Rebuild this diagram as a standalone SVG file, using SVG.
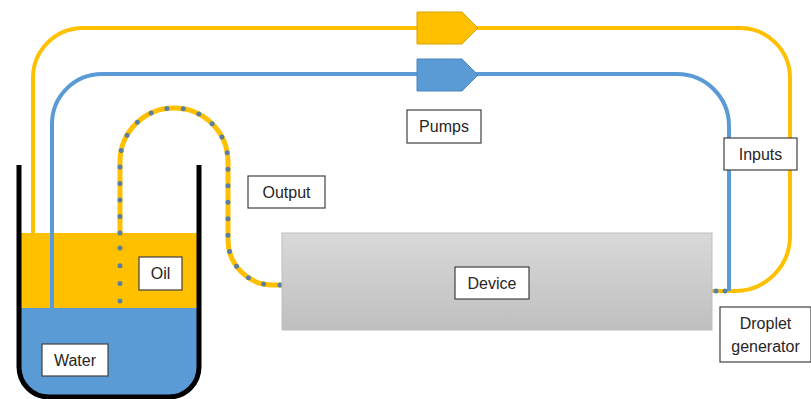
<svg xmlns="http://www.w3.org/2000/svg" width="811" height="399" viewBox="0 0 811 399">
  <style>
    .tube { fill: none; stroke-width: 4; }
    .oil { stroke: #FFC000; }
    .aq { stroke: #5B9BD5; }
    .drops { fill: none; stroke: #5A7FA3; stroke-width: 5; stroke-linecap: round; stroke-dasharray: 0 16.5; }
    .label rect { fill: #ffffff; stroke: #404040; stroke-width: 1.2; }
    .label text { font-family: "Liberation Sans", Arial, sans-serif; font-size: 16px; fill: #262626; text-anchor: middle; }
  </style>
  <defs>
    <linearGradient id="deviceFill" x1="0" y1="0" x2="0" y2="1">
      <stop offset="0" stop-color="#d9d9d9"/>
      <stop offset="1" stop-color="#bfbfbf"/>
    </linearGradient>
  </defs>
  <rect width="811" height="399" fill="#ffffff"/>

  <!-- Beaker contents -->
  <g id="beaker">
    <rect x="19" y="233" width="180" height="75" fill="#FFC000"/>
    <path d="M19,308 V367 A30,30 0 0 0 49,397 H169 A30,30 0 0 0 199,367 V308 Z" fill="#5B9BD5"/>
  </g>

  <!-- Connectors: tubing -->
  <g id="connectors">
    <path class="tube oil" d="M33,233 V78 A50,50 0 0 1 83,28 H740 A50,50 0 0 1 790,78 V236 A55,55 0 0 1 735,291 H712"/>
    <path class="tube aq" d="M52,308 V124 A50,50 0 0 1 102,74 H677 A52,52 0 0 1 729,126 V291"/>
    <path class="tube oil" style="stroke-width:5" d="M120,233 V162 A54,54 0 0 1 228,162 V240 A45,45 0 0 0 273,285 H282"/>
    <path class="drops" d="M120,233 V162 A54,54 0 0 1 228,162 V240 A45,45 0 0 0 273,285 H282"/>
    <path class="drops" d="M120,248 V305" style="stroke-dasharray:0 17.7"/>
    <path class="drops" d="M716,291 H726" style="stroke-dasharray:0 9"/>
  </g>

  <!-- Beaker wall -->
  <path d="M19,165 V367 A30,30 0 0 0 49,397 H169 A30,30 0 0 0 199,367 V165" fill="none" stroke="#000000" stroke-width="5"/>

  <!-- Pumps -->
  <g id="pump-oil">
    <path d="M417,12 H462 L478,28 L462,44 H417 Z" fill="#FFC000" stroke="#D9A300" stroke-width="1"/>
  </g>
  <g id="pump-water">
    <path d="M417,59 H462 L478,75 L462,91 H417 Z" fill="#5B9BD5" stroke="#4A86BF" stroke-width="1"/>
  </g>

  <!-- Device -->
  <g id="device">
    <rect x="282" y="233" width="430" height="97" fill="url(#deviceFill)" stroke="#bfbfbf" stroke-width="1"/>
  </g>

  <!-- Labels -->
  <g id="label-pumps" class="label">
    <rect x="407" y="110" width="74" height="33"/>
    <text x="444" y="132">Pumps</text>
  </g>
  <g id="label-inputs" class="label">
    <rect x="724" y="138" width="73" height="32"/>
    <text x="760.5" y="160">Inputs</text>
  </g>
  <g id="label-output" class="label">
    <rect x="248" y="176" width="77" height="32"/>
    <text x="286.5" y="198">Output</text>
  </g>
  <g id="label-device" class="label">
    <rect x="455" y="267" width="74" height="32"/>
    <text x="492" y="289">Device</text>
  </g>
  <g id="label-oil" class="label">
    <rect x="139" y="257" width="43" height="33"/>
    <text x="160.5" y="279">Oil</text>
  </g>
  <g id="label-water" class="label">
    <rect x="42" y="344" width="66" height="32"/>
    <text x="75" y="366">Water</text>
  </g>
  <g id="label-droplet" class="label">
    <rect x="720" y="307" width="91" height="55"/>
    <text x="765.5" y="329">Droplet</text>
    <text x="765.5" y="352">generator</text>
  </g>
</svg>
